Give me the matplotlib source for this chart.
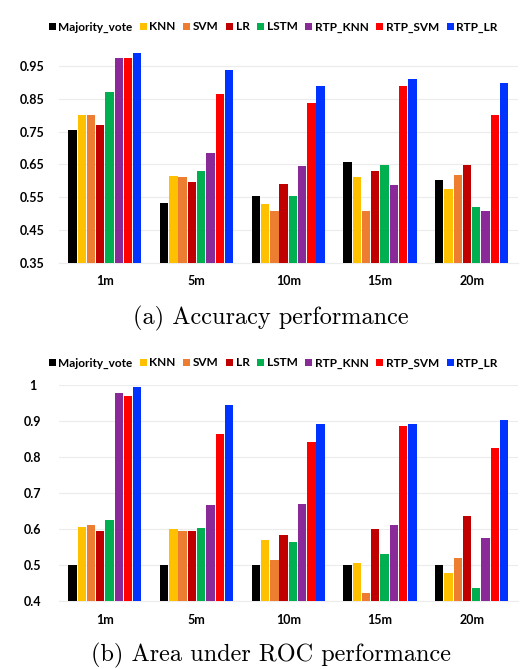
import numpy as np
import matplotlib
matplotlib.use('Agg')
import matplotlib.pyplot as plt

windows = ['1m', '5m', '10m', '15m', '20m']
models = ['Majority_vote', 'KNN', 'SVM', 'LR', 'LSTM', 'RTP_KNN', 'RTP_SVM', 'RTP_LR']
colors = ['#000000', '#FFC000', '#ED7D31', '#C00000', '#00B050', '#8A2A98', '#FF0000', '#0033FF']

# accuracy, one list per model (values per window)
acc_majority = [0.755, 0.534, 0.554, 0.659, 0.604]
acc_knn = [0.800, 0.616, 0.530, 0.611, 0.576]
acc_svm = [0.800, 0.611, 0.507, 0.508, 0.618]
acc_lr = [0.771, 0.598, 0.592, 0.629, 0.647]
acc_lstm = [0.872, 0.629, 0.553, 0.649, 0.520]
acc_rtp_knn = [0.973, 0.686, 0.645, 0.587, 0.507]
acc_rtp_svm = [0.973, 0.864, 0.837, 0.888, 0.800]
acc_rtp_lr = [0.990, 0.939, 0.890, 0.909, 0.899]

# area under ROC
auc_majority = [0.500, 0.500, 0.500, 0.500, 0.500]
auc_knn = [0.605, 0.600, 0.570, 0.506, 0.478]
auc_svm = [0.612, 0.595, 0.514, 0.421, 0.519]
auc_lr = [0.593, 0.593, 0.582, 0.600, 0.637]
auc_lstm = [0.625, 0.602, 0.565, 0.530, 0.436]
auc_rtp_knn = [0.977, 0.666, 0.668, 0.612, 0.576]
auc_rtp_svm = [0.968, 0.863, 0.841, 0.885, 0.825]
auc_rtp_lr = [0.995, 0.943, 0.890, 0.891, 0.903]

acc = [acc_majority, acc_knn, acc_svm, acc_lr, acc_lstm, acc_rtp_knn, acc_rtp_svm, acc_rtp_lr]
auc = [auc_majority, auc_knn, auc_svm, auc_lr, auc_lstm, auc_rtp_knn, auc_rtp_svm, auc_rtp_lr]

W, H = 520, 669
fig = plt.figure(figsize=(W / 100, H / 100), dpi=100)
plt.rcParams['font.family'] = ['Lato', 'DejaVu Sans']

x = np.arange(len(windows))
slot = 0.101
bw = slot * 0.9


def panel(rect, data, ylim, yticks, yticklabels, legend_y, caption, caption_y):
    ax = fig.add_axes(rect)
    for i, (name, vals) in enumerate(zip(models, data)):
        off = (i - 3.5) * slot
        ax.bar(x + off, np.array(vals) - ylim[0], bw, bottom=ylim[0],
               color=colors[i], label=name, zorder=3)
    ax.set_xlim(-0.5, 4.5)
    ax.set_ylim(*ylim)
    ax.set_yticks(yticks)
    ax.set_yticklabels(yticklabels, fontsize=9, fontweight='bold')
    for t in ax.get_yticklabels():
        t.set_horizontalalignment('center')
    ax.set_xticks(x)
    ax.set_xticklabels(windows, fontsize=9, fontweight='bold')
    ax.tick_params(axis='y', length=0, pad=19)
    ax.tick_params(axis='x', length=0, pad=9)
    ax.yaxis.grid(True, color='#ececec', linewidth=0.8, zorder=0)
    for s in ['top', 'right', 'left']:
        ax.spines[s].set_visible(False)
    ax.spines['bottom'].set_color('#ececec')
    handles, labels = ax.get_legend_handles_labels()
    fig.legend(handles, labels, loc='center', bbox_to_anchor=(0.525, 1 - legend_y / H),
               ncol=8, frameon=False, handlelength=0.6, handleheight=0.6,
               handletextpad=0.2, columnspacing=0.65, prop={'weight': 'bold', 'size': 8.5})
    fig.text(0.521, 1 - caption_y / H, caption, ha='center', va='center',
             fontsize=17.5, family='cmr10')
    return ax


left = 59 / W
width = (517.5 - 59) / W

panel([left, 1 - 263 / H, width, (263 - 49.5) / H], acc, (0.35, 1.0),
      [0.35, 0.45, 0.55, 0.65, 0.75, 0.85, 0.95],
      ['0.35', '0.45', '0.55', '0.65', '0.75', '0.85', '0.95'],
      27, '(a) Accuracy performance', 318)

panel([left, 1 - 601 / H, width, (601 - 384.7) / H], auc, (0.4, 1.0),
      [0.4, 0.5, 0.6, 0.7, 0.8, 0.9, 1.0],
      ['0.4', '0.5', '0.6', '0.7', '0.8', '0.9', '1'],
      363, '(b) Area under ROC performance', 655)

fig.savefig('out.png', dpi=100)
